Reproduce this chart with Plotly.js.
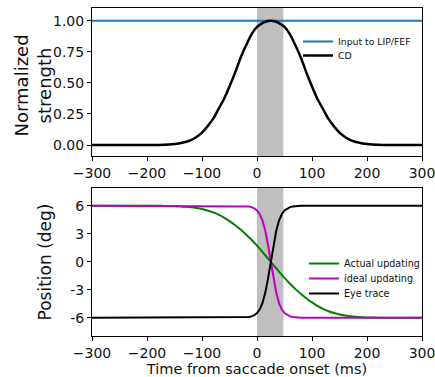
<!DOCTYPE html>
<html>
<head>
<meta charset="utf-8">
<script src="https://cdn.plot.ly/plotly-3.0.1.min.js"></script>
<style>html,body{margin:0;padding:0;background:#fff;}#chart{width:435px;height:377px;}</style>
</head>
<body>
<div id="chart"></div>
<script>
// ---------- data ----------
const timeTicks = [-300, -200, -100, 0, 100, 200, 300];
const timeTickText = ['\u2212300', '\u2212200', '\u2212100', '0', '100', '200', '300'];
const strengthTicks = [0, 0.25, 0.5, 0.75, 1.0];
const strengthTickText = ['0.00', '0.25', '0.50', '0.75', '1.00'];
const posTicks = [6, 3, 0, -3, -6];
const posTickText = ['6', '3', '0', '-3', '-6'];

const saccadeWindow = [0, 48];

// top panel
const inputTime = [-300, 300];
const inputStrength = [1.0, 1.0];

const cdTime = [-300, -290, -280, -270, -260, -250, -240, -230, -220, -210, -200, -190, -180,
  -170, -160, -150, -140, -130, -120, -110, -100, -90, -80, -70, -60, -50, -40, -30, -20, -10,
  0, 10, 20, 25, 30, 40, 50, 60, 70, 80, 90, 100, 110, 120, 130, 140, 150, 160, 170, 180, 190,
  200, 210, 220, 230, 240, 250, 260, 270, 280, 290, 300];
const cdStrength = [0, 0, 0, 0, 0, 0, 0, 0, 0, 0, 0, 0, 0.001,
  0.002, 0.004, 0.008, 0.015, 0.025, 0.04, 0.065, 0.10, 0.15, 0.21, 0.29, 0.37, 0.47, 0.58, 0.70, 0.80, 0.89,
  0.95, 0.98, 0.997, 1.0, 0.997, 0.98, 0.95, 0.89, 0.80, 0.70, 0.58, 0.47, 0.37, 0.29, 0.21, 0.15, 0.10, 0.065, 0.04, 0.025, 0.015,
  0.008, 0.004, 0.002, 0.001, 0, 0, 0, 0, 0, 0, 0];

// bottom panel
const actualTime = [-300, -250, -200, -190, -180, -170, -160, -150, -140, -130, -120, -110, -100,
  -90, -80, -70, -60, -50, -40, -30, -20, -10, 0, 10, 20, 25, 30, 40, 50, 60, 70, 80, 90, 100,
  110, 120, 130, 140, 150, 160, 170, 180, 190, 200, 210, 220, 230, 240, 250, 300];
const actualPos = [6, 6, 6, 6, 5.99, 5.985, 5.975, 5.96, 5.935, 5.9, 5.84, 5.75, 5.64,
  5.49, 5.3, 5.05, 4.73, 4.35, 3.93, 3.45, 2.93, 2.35, 1.73, 1.05, 0.35, 0, -0.35, -1.05, -1.73, -2.35, -2.93, -3.45, -3.93, -4.35,
  -4.73, -5.05, -5.3, -5.49, -5.64, -5.75, -5.84, -5.9, -5.935, -5.96, -5.975, -5.985, -5.99, -6, -6, -6];

const idealTime = [-300, -60, -40, -30, -20, -15, -10, -5, 0, 5, 10, 15, 20, 25, 30, 35, 40, 45,
  50, 55, 60, 65, 70, 80, 90, 110, 300];
const idealPos = [6, 6, 5.99, 5.99, 5.96, 5.92, 5.85, 5.72, 5.49, 5.09, 4.41, 3.33, 1.82, 0,
  -1.82, -3.33, -4.41, -5.09, -5.49, -5.72, -5.85, -5.92, -5.96, -5.99, -6, -6, -6];

const eyeTime = [-300, -60, -40, -30, -20, -15, -10, -5, 0, 5, 10, 15, 20, 25, 30, 35, 40, 45,
  50, 55, 60, 65, 70, 80, 90, 110, 300];
const eyePos = [-6, -6, -5.99, -5.99, -5.96, -5.92, -5.85, -5.72, -5.49, -5.09, -4.41, -3.33, -1.82, 0,
  1.82, 3.33, 4.41, 5.09, 5.49, 5.72, 5.85, 5.92, 5.96, 5.99, 6, 6, 6];

// ---------- chart ----------
const W = 435, H = 377;
const xDom = [92 / W, 422 / W];
const topDom = [1 - 156 / H, 1 - 8 / H];
const botDom = [1 - 336 / H, 1 - 188 / H];
const TXT = '#111';

const traces = [
  {x: inputTime, y: inputStrength, type: 'scatter', mode: 'lines', name: 'Input to LIP/FEF',
   line: {color: '#1f77b4', width: 2}, xaxis: 'x', yaxis: 'y', legend: 'legend'},
  {x: cdTime, y: cdStrength, type: 'scatter', mode: 'lines', name: 'CD',
   line: {color: '#000000', width: 2.5, shape: 'spline', smoothing: 0.8}, xaxis: 'x', yaxis: 'y', legend: 'legend2'},
  {x: actualTime, y: actualPos, type: 'scatter', mode: 'lines', name: 'Actual updating',
   line: {color: '#008000', width: 2, shape: 'spline', smoothing: 0.8}, xaxis: 'x2', yaxis: 'y2', legend: 'legend3'},
  {x: idealTime, y: idealPos, type: 'scatter', mode: 'lines', name: 'ideal updating',
   line: {color: '#bf00bf', width: 2}, xaxis: 'x2', yaxis: 'y2', legend: 'legend4'},
  {x: eyeTime, y: eyePos, type: 'scatter', mode: 'lines', name: 'Eye trace',
   line: {color: '#000000', width: 2}, xaxis: 'x2', yaxis: 'y2', legend: 'legend5'}
];

const axisCommon = {
  showline: true, mirror: true, linecolor: '#000', linewidth: 1,
  ticks: 'outside', ticklen: 4, tickwidth: 1, tickcolor: '#000',
  showgrid: false, zeroline: false, automargin: false, ticklabeloverflow: 'allow',
  tickfont: {family: 'DejaVu Sans', size: 14, color: TXT}
};

function legendAt(xPx, yPx, size) {
  return {x: xPx / W, y: 1 - yPx / H, xanchor: 'left', yanchor: 'top', bgcolor: 'rgba(0,0,0,0)',
    font: {family: 'DejaVu Sans', size: size, color: TXT}, borderwidth: 0};
}

const layout = {
  width: W, height: H,
  margin: {l: 0, r: 0, t: 0, b: 0},
  paper_bgcolor: '#fff', plot_bgcolor: '#fff',
  font: {family: 'DejaVu Sans', color: TXT, size: 14},
  showlegend: true,
  xaxis: Object.assign({}, axisCommon, {domain: xDom, anchor: 'y', range: [-300, 300],
    tickvals: timeTicks, ticktext: timeTickText}),
  yaxis: Object.assign({}, axisCommon, {domain: topDom, anchor: 'x', range: [-0.088, 1.102],
    tickvals: strengthTicks, ticktext: strengthTickText}),
  xaxis2: Object.assign({}, axisCommon, {domain: xDom, anchor: 'y2', range: [-300, 300],
    tickvals: timeTicks, ticktext: timeTickText,
    title: {text: 'Time from saccade onset (ms)', font: {family: 'DejaVu Sans', size: 14.5, color: TXT}, standoff: 0}}),
  yaxis2: Object.assign({}, axisCommon, {domain: botDom, anchor: 'x2', range: [-7.95, 7.9],
    tickvals: posTicks, ticktext: posTickText,
    title: {text: 'Position (deg)', font: {family: 'DejaVu Sans', size: 17, color: TXT}, standoff: 14}}),
  legend: legendAt(298, 27, 9.3),
  legend2: legendAt(298, 41, 9.3),
  legend3: legendAt(304, 249, 9.6),
  legend4: legendAt(304, 264, 9.6),
  legend5: legendAt(304, 279, 9.6),
  annotations: [
    {text: 'Normalized<br>strength', xref: 'paper', yref: 'paper', x: 32.5 / W, y: 1 - 86 / H,
     xanchor: 'center', yanchor: 'middle', textangle: -90, showarrow: false,
     font: {family: 'DejaVu Sans', size: 18, color: TXT}}
  ],
  shapes: [
    {type: 'rect', xref: 'x', yref: 'y domain', x0: saccadeWindow[0], x1: saccadeWindow[1], y0: 0, y1: 1,
     fillcolor: '#bfbfbf', line: {width: 0}, layer: 'below'},
    {type: 'rect', xref: 'x2', yref: 'y2 domain', x0: saccadeWindow[0], x1: saccadeWindow[1], y0: 0, y1: 1,
     fillcolor: '#bfbfbf', line: {width: 0}, layer: 'below'}
  ]
};

Plotly.newPlot('chart', traces, layout, {staticPlot: true, displayModeBar: false});
</script>
</body>
</html>
